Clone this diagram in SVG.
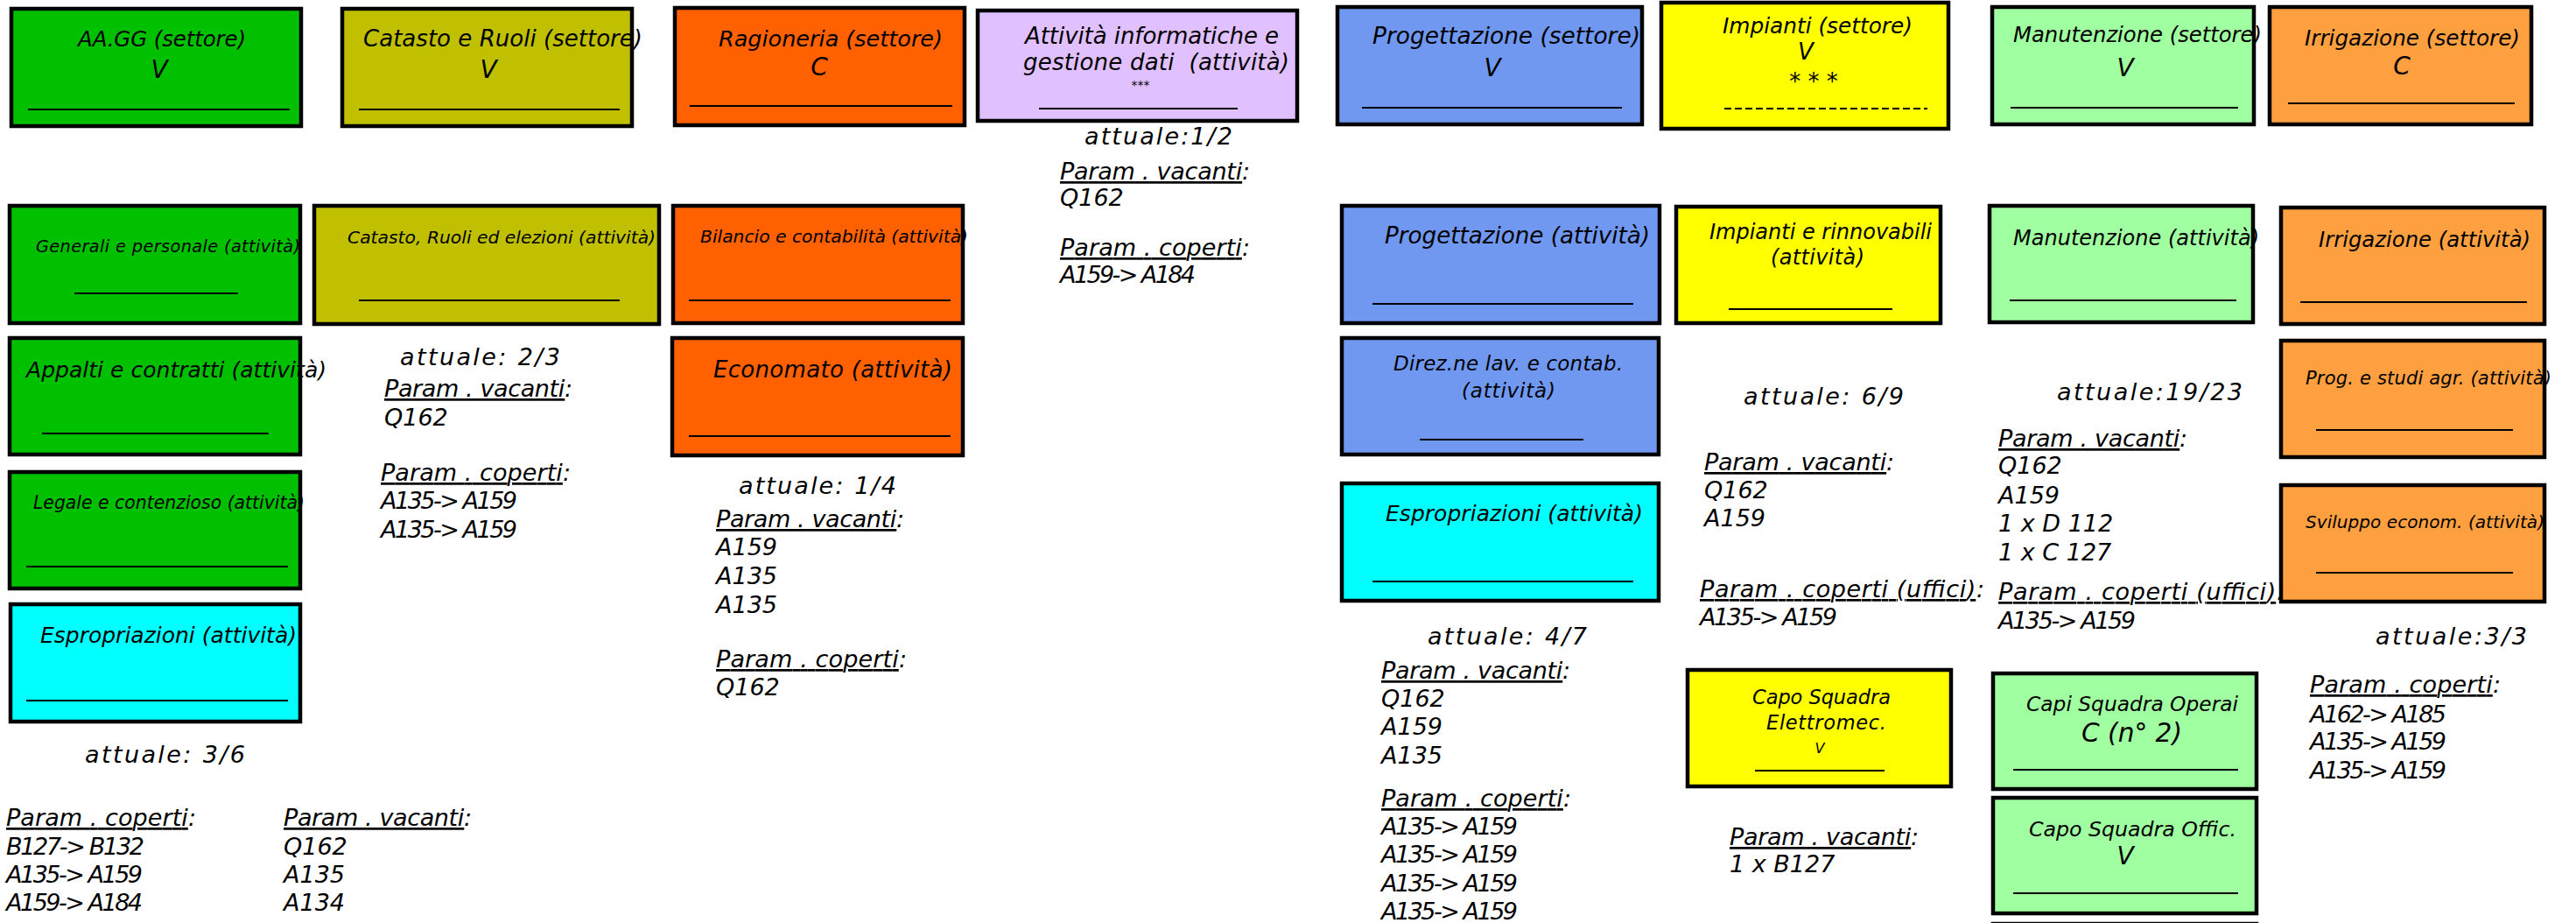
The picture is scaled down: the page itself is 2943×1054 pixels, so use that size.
<svg xmlns="http://www.w3.org/2000/svg" width="2943" height="1054" viewBox="0 0 2943 1054">
<style>
.box{stroke:#000;stroke-width:4.5}
.t{font-family:"DejaVu Sans",Verdana,sans-serif;font-style:italic;fill:#000}
.c{text-anchor:middle}
.rule{stroke:#000;stroke-width:2}
.dash{stroke:#000;stroke-width:2;stroke-dasharray:8 4}
.n{font-size:27px}
.u{text-decoration:underline}
.g1{fill:#00C000}.g2{fill:#C0C000}.g3{fill:#FF6000}.g4{fill:#E0C0FF}.g5{fill:#7098F0}.g6{fill:#FFFF00}.g7{fill:#A0FFA0}.g8{fill:#FFA040}.g9{fill:#00FFFF}
</style>
<rect width="2943" height="1054" fill="#fff"/>
<g id="connectors"/>

<g id="aagg-settore">
<rect class="box g1" x="13" y="10" width="331" height="134"/>
<text class="t" x="89" y="53" font-size="24.5" textLength="192">AA.GG (settore)</text>
<text class="t c" x="182" y="89" font-size="28">V</text>
<line class="rule" x1="32" y1="125" x2="331" y2="125"/>
</g>
<g id="catasto-settore">
<rect class="box g2" x="391" y="10" width="331" height="134"/>
<text class="t" x="415" y="53" font-size="26" textLength="319">Catasto e Ruoli (settore)</text>
<text class="t c" x="558" y="89" font-size="28">V</text>
<line class="rule" x1="410" y1="125" x2="708" y2="125"/>
</g>
<g id="ragioneria-settore">
<rect class="box g3" x="771" y="9" width="331" height="134"/>
<text class="t" x="821" y="53" font-size="25.5" textLength="256">Ragioneria (settore)</text>
<text class="t c" x="936" y="86" font-size="28">C</text>
<line class="rule" x1="788" y1="121" x2="1088" y2="121"/>
</g>
<g id="informatica-attivita">
<rect class="box g4" x="1117" y="12" width="365" height="126"/>
<text class="t" x="1171" y="50" font-size="26" textLength="290">Attività informatiche e</text>
<text class="t" x="1169" y="80" font-size="26" textLength="304" xml:space="preserve">gestione dati  (attività)</text>
<text class="t c" x="1303" y="102" font-size="14">***</text>
<line class="rule" x1="1187" y1="124" x2="1414" y2="124"/>
</g>
<g id="progettazione-settore">
<rect class="box g5" x="1528" y="8" width="348" height="134"/>
<text class="t" x="1568" y="50" font-size="26.4" textLength="306">Progettazione (settore)</text>
<text class="t c" x="1705" y="87" font-size="28">V</text>
<line class="rule" x1="1556" y1="123" x2="1853" y2="123"/>
</g>
<g id="impianti-settore">
<rect class="box g6" x="1898" y="3" width="328" height="144"/>
<text class="t" x="1968" y="38" font-size="24.8" textLength="217">Impianti (settore)</text>
<text class="t c" x="2063" y="68" font-size="26">V</text>
<text class="t c" x="2072" y="102" font-size="26">* * *</text>
<line class="dash" x1="1970" y1="124" x2="2202" y2="124"/>
</g>
<g id="manutenzione-settore">
<rect class="box g7" x="2276" y="8" width="299" height="134"/>
<text class="t" x="2300" y="48" font-size="24.3" textLength="284">Manutenzione (settore)</text>
<text class="t c" x="2428" y="87" font-size="28">V</text>
<line class="rule" x1="2297" y1="123" x2="2557" y2="123"/>
</g>
<g id="irrigazione-settore">
<rect class="box g8" x="2593" y="8" width="299" height="134"/>
<text class="t" x="2633" y="52" font-size="24.7" textLength="246">Irrigazione (settore)</text>
<text class="t c" x="2744" y="85" font-size="28">C</text>
<line class="rule" x1="2614" y1="118" x2="2873" y2="118"/>
</g>

<g id="generali-attivita">
<rect class="box g1" x="11" y="235" width="332" height="134"/>
<text class="t" x="41" y="288" font-size="19.3" textLength="302">Generali e personale (attività)</text>
<line class="rule" x1="85" y1="335" x2="272" y2="335"/>
</g>
<g id="catasto-attivita">
<rect class="box g2" x="359" y="235" width="394" height="135"/>
<text class="t" x="397" y="278" font-size="20.3" textLength="352">Catasto, Ruoli ed elezioni (attività)</text>
<line class="rule" x1="410" y1="343" x2="708" y2="343"/>
</g>
<g id="bilancio-attivita">
<rect class="box g3" x="769" y="235" width="331" height="134"/>
<text class="t" x="800" y="277" font-size="20.3" textLength="306">Bilancio e contabilità (attività)</text>
<line class="rule" x1="787" y1="343" x2="1086" y2="343"/>
</g>
<g id="progettazione-attivita">
<rect class="box g5" x="1533" y="235" width="363" height="134"/>
<text class="t" x="1582" y="278" font-size="26.2" textLength="303">Progettazione (attività)</text>
<line class="rule" x1="1568" y1="347" x2="1866" y2="347"/>
</g>
<g id="impianti-attivita">
<rect class="box g6" x="1915" y="236" width="302" height="133"/>
<text class="t" x="1953" y="273" font-size="24" textLength="254">Impianti e rinnovabili</text>
<text class="t" x="2023" y="302" font-size="24" textLength="107">(attività)</text>
<line class="rule" x1="1975" y1="353" x2="2162" y2="353"/>
</g>
<g id="manutenzione-attivita">
<rect class="box g7" x="2273" y="235" width="301" height="133"/>
<text class="t" x="2300" y="280" font-size="24" textLength="281">Manutenzione (attività)</text>
<line class="rule" x1="2296" y1="343" x2="2555" y2="343"/>
</g>
<g id="irrigazione-attivita">
<rect class="box g8" x="2606" y="237" width="301" height="133"/>
<text class="t" x="2649" y="282" font-size="24.3" textLength="242">Irrigazione (attività)</text>
<line class="rule" x1="2628" y1="345" x2="2887" y2="345"/>
</g>

<g id="appalti-attivita">
<rect class="box g1" x="11" y="386" width="332" height="133"/>
<text class="t" x="30" y="431" font-size="25" textLength="343">Appalti e contratti (attività)</text>
<line class="rule" x1="48" y1="495" x2="307" y2="495"/>
</g>
<g id="economato-attivita">
<rect class="box g3" x="768" y="386" width="332" height="134"/>
<text class="t" x="815" y="431" font-size="26" textLength="273">Economato (attività)</text>
<line class="rule" x1="787" y1="498" x2="1086" y2="498"/>
</g>
<g id="direzione-attivita">
<rect class="box g5" x="1533" y="386" width="362" height="133"/>
<text class="t" x="1592" y="423" font-size="23" textLength="262">Direz.ne lav. e contab.</text>
<text class="t" x="1670" y="454" font-size="23" textLength="107">(attività)</text>
<line class="rule" x1="1622" y1="502" x2="1809" y2="502"/>
</g>
<g id="progstudi-attivita">
<rect class="box g8" x="2606" y="389" width="301" height="133"/>
<text class="t" x="2634" y="439" font-size="21" textLength="281">Prog. e studi agr. (attività)</text>
<line class="rule" x1="2646" y1="491" x2="2871" y2="491"/>
</g>
<g id="legale-attivita">
<rect class="box g1" x="11" y="539" width="332" height="133"/>
<text class="t" x="38" y="581" font-size="20.4" textLength="310">Legale e contenzioso (attività)</text>
<line class="rule" x1="30" y1="647" x2="329" y2="647"/>
</g>
<g id="espropriazioni-progettazione">
<rect class="box g9" x="1533" y="552" width="362" height="134"/>
<text class="t" x="1583" y="595" font-size="25" textLength="294">Espropriazioni (attività)</text>
<line class="rule" x1="1568" y1="664" x2="1866" y2="664"/>
</g>
<g id="sviluppo-attivita">
<rect class="box g8" x="2606" y="554" width="301" height="133"/>
<text class="t" x="2634" y="603" font-size="20" textLength="273">Sviluppo econom. (attività)</text>
<line class="rule" x1="2646" y1="654" x2="2871" y2="654"/>
</g>
<g id="espropriazioni-aagg">
<rect class="box g9" x="12" y="690" width="331" height="134"/>
<text class="t" x="46" y="734" font-size="25" textLength="293">Espropriazioni (attività)</text>
<line class="rule" x1="30" y1="800" x2="329" y2="800"/>
</g>
<g id="caposquadra-elettromec">
<rect class="box g6" x="1928" y="765" width="301" height="133"/>
<text class="t" x="2002" y="804" font-size="22.5" textLength="158">Capo Squadra</text>
<text class="t" x="2018" y="833" font-size="22.5" textLength="137">Elettromec.</text>
<text class="t c" x="2079" y="860" font-size="16">V</text>
<line class="rule" x1="2005" y1="880" x2="2153" y2="880" stroke-width="1.5"/>
</g>
<g id="capisquadra-operai">
<rect class="box g7" x="2277" y="769" width="301" height="132"/>
<text class="t" x="2315" y="812" font-size="23.3" textLength="242">Capi Squadra Operai</text>
<text class="t" x="2378" y="847" font-size="29.6" textLength="115">C (n° 2)</text>
<line class="rule" x1="2300" y1="879" x2="2557" y2="879"/>
</g>
<g id="caposquadra-offic">
<rect class="box g7" x="2277" y="911" width="301" height="132"/>
<text class="t" x="2318" y="955" font-size="23.7" textLength="237">Capo Squadra Offic.</text>
<text class="t c" x="2428" y="987" font-size="28">V</text>
<line class="rule" x1="2300" y1="1020" x2="2557" y2="1020"/>
</g>
<g id="box-bottom">
<rect class="box g7" x="2277" y="1055" width="301" height="132"/>
</g>

<g id="note-informatica" class="t n">
<text x="1239" y="165" textLength="169">attuale:1/2</text>
<text x="1211" y="205" textLength="217"><tspan class="u">Param . vacanti</tspan>:</text>
<text x="1211" y="235">Q162</text>
<text x="1211" y="292" textLength="217"><tspan class="u">Param . coperti</tspan>:</text>
<text x="1211" y="323" textLength="155">A159-&gt; A184</text>
</g>
<g id="note-catasto" class="t n">
<text x="457" y="417" textLength="183">attuale: 2/3</text>
<text x="439" y="453" textLength="215"><tspan class="u">Param . vacanti</tspan>:</text>
<text x="439" y="486">Q162</text>
<text x="435" y="549" textLength="217"><tspan class="u">Param . coperti</tspan>:</text>
<text x="435" y="581" textLength="156">A135-&gt; A159</text>
<text x="435" y="614" textLength="156">A135-&gt; A159</text>
</g>
<g id="note-aagg" class="t n">
<text x="97" y="871" textLength="183">attuale: 3/6</text>
<text x="7" y="943" textLength="217"><tspan class="u">Param . coperti</tspan>:</text>
<text x="7" y="976" textLength="158">B127-&gt; B132</text>
<text x="7" y="1008" textLength="156">A135-&gt; A159</text>
<text x="7" y="1040" textLength="156">A159-&gt; A184</text>
<text x="324" y="943" textLength="215"><tspan class="u">Param . vacanti</tspan>:</text>
<text x="324" y="976">Q162</text>
<text x="324" y="1008">A135</text>
<text x="324" y="1040">A134</text>
</g>
<g id="note-ragioneria" class="t n">
<text x="844" y="564" textLength="180">attuale: 1/4</text>
<text x="818" y="602" textLength="215"><tspan class="u">Param . vacanti</tspan>:</text>
<text x="818" y="634">A159</text>
<text x="818" y="667">A135</text>
<text x="818" y="700">A135</text>
<text x="818" y="762" textLength="218"><tspan class="u">Param . coperti</tspan>:</text>
<text x="818" y="794">Q162</text>
</g>
<g id="note-progettazione" class="t n">
<text x="1631" y="736" textLength="182">attuale: 4/7</text>
<text x="1578" y="775" textLength="216"><tspan class="u">Param . vacanti</tspan>:</text>
<text x="1578" y="807">Q162</text>
<text x="1578" y="839">A159</text>
<text x="1578" y="872">A135</text>
<text x="1578" y="921" textLength="217"><tspan class="u">Param . coperti</tspan>:</text>
<text x="1578" y="953" textLength="156">A135-&gt; A159</text>
<text x="1578" y="985" textLength="156">A135-&gt; A159</text>
<text x="1578" y="1018" textLength="156">A135-&gt; A159</text>
<text x="1578" y="1050" textLength="156">A135-&gt; A159</text>
</g>
<g id="note-impianti" class="t n">
<text x="1992" y="462" textLength="183">attuale: 6/9</text>
<text x="1947" y="537" textLength="217"><tspan class="u">Param . vacanti</tspan>:</text>
<text x="1947" y="569">Q162</text>
<text x="1947" y="601">A159</text>
<text x="1942" y="682" textLength="325"><tspan class="u">Param . coperti (uffici)</tspan>:</text>
<text x="1942" y="714" textLength="157">A135-&gt; A159</text>
<text x="1976" y="965" textLength="216"><tspan class="u">Param . vacanti</tspan>:</text>
<text x="1976" y="996">1 x B127</text>
</g>
<g id="note-manutenzione" class="t n">
<text x="2350" y="457" textLength="212">attuale:19/23</text>
<text x="2283" y="510" textLength="216"><tspan class="u">Param . vacanti</tspan>:</text>
<text x="2283" y="541">Q162</text>
<text x="2283" y="575">A159</text>
<text x="2283" y="607">1 x D 112</text>
<text x="2283" y="640">1 x C 127</text>
<text x="2283" y="685" textLength="327"><tspan class="u">Param . coperti (uffici)</tspan>:</text>
<text x="2283" y="718" textLength="157">A135-&gt; A159</text>
</g>
<g id="note-irrigazione" class="t n">
<text x="2714" y="736" textLength="173">attuale:3/3</text>
<text x="2639" y="791" textLength="218"><tspan class="u">Param . coperti</tspan>:</text>
<text x="2639" y="825" textLength="156">A162-&gt; A185</text>
<text x="2639" y="856" textLength="156">A135-&gt; A159</text>
<text x="2639" y="889" textLength="156">A135-&gt; A159</text>
</g>
</svg>
